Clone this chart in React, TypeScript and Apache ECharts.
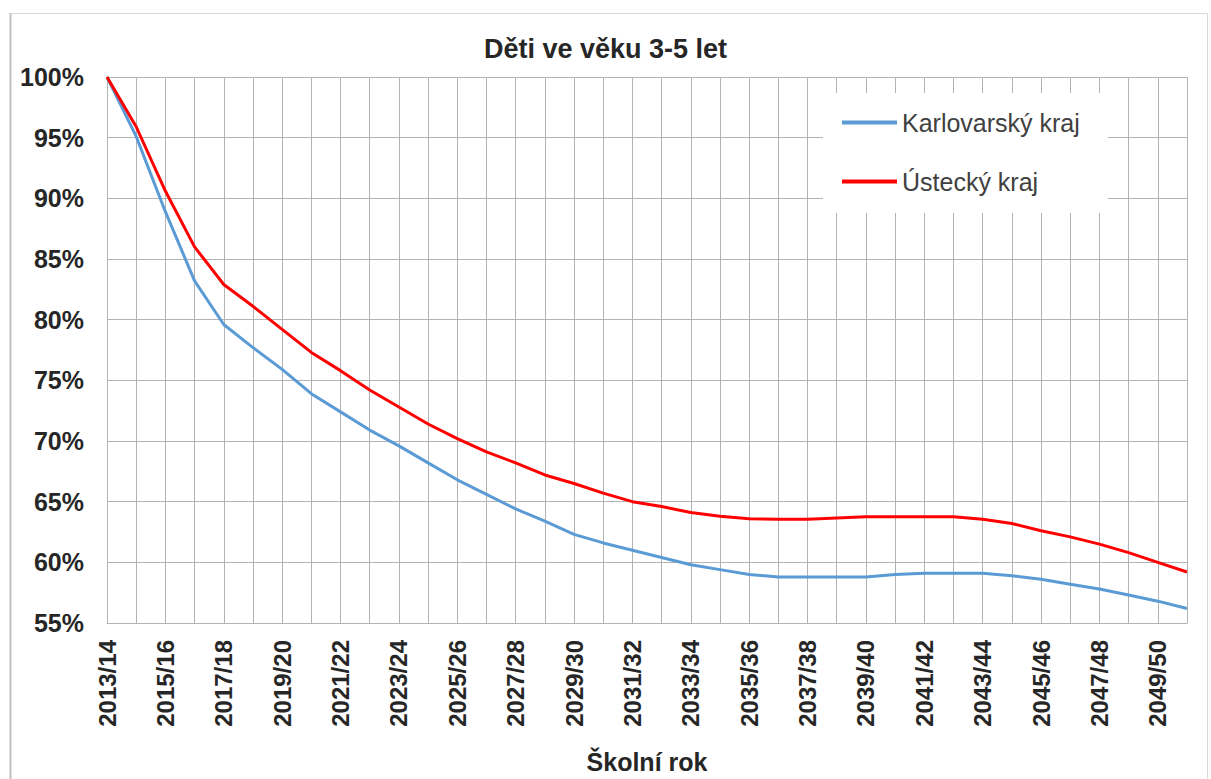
import React, { useEffect, useRef } from "react";
import * as echarts from "echarts";

const categories = [
  "2013/14", "2014/15", "2015/16", "2016/17", "2017/18", "2018/19", "2019/20", "2020/21",
  "2021/22", "2022/23", "2023/24", "2024/25", "2025/26", "2026/27", "2027/28", "2028/29",
  "2029/30", "2030/31", "2031/32", "2032/33", "2033/34", "2034/35", "2035/36", "2036/37",
  "2037/38", "2038/39", "2039/40", "2040/41", "2041/42", "2042/43", "2043/44", "2044/45",
  "2045/46", "2046/47", "2047/48", "2048/49", "2049/50", "2050/51",
];

const karlovarsky = [
  100, 95.1, 88.9, 83.2, 79.6, 77.7, 75.9, 73.9, 72.4, 70.9, 69.6, 68.2, 66.8, 65.6, 64.4, 63.4,
  62.3, 61.6, 61.0, 60.4, 59.8, 59.4, 59.0, 58.8, 58.8, 58.8, 58.8, 59.0, 59.1, 59.1, 59.1, 58.9,
  58.6, 58.2, 57.8, 57.3, 56.8, 56.2,
];

const ustecky = [
  100, 95.9, 90.6, 86.0, 82.9, 81.1, 79.2, 77.3, 75.8, 74.2, 72.8, 71.4, 70.2, 69.1, 68.2, 67.2,
  66.5, 65.7, 65.0, 64.6, 64.1, 63.8, 63.6, 63.55, 63.55, 63.65, 63.75, 63.75, 63.75, 63.75, 63.55, 63.2,
  62.6, 62.1, 61.5, 60.8, 60.0, 59.2,
];

const seriesNames = ["Karlovarský kraj", "Ústecký kraj"];
const titleText = "Děti ve věku 3-5 let";
const xAxisName = "Školní rok";

const FONT = "'Liberation Sans', Arial, sans-serif";

export default function App() {
  const ref = useRef<HTMLDivElement>(null);

  useEffect(() => {
    if (!ref.current) return;
    const chart = echarts.init(ref.current, undefined, { renderer: "svg" });
    chart.setOption({
      animation: false,
      backgroundColor: "#ffffff",
      title: {
        text: titleText,
        left: "center",
        top: 35,
        padding: 0,
        textStyle: { fontFamily: FONT, fontSize: 27, fontWeight: "bold", color: "#262626" },
      },
      legend: {
        orient: "vertical",
        left: 823,
        top: 93,
        padding: [17, 28, 19, 19],
        itemGap: 34,
        itemWidth: 55,
        itemHeight: 4,
        itemTextGap: 4,
        icon: "rect",
        backgroundColor: "#ffffff",
        textStyle: { fontFamily: FONT, fontSize: 25, color: "#404040", lineHeight: 24 },
        data: seriesNames,
      },
      grid: { left: 107, width: 1080, top: 77, height: 550, containLabel: false },
      xAxis: {
        type: "category",
        data: categories,
        boundaryGap: false,
        name: xAxisName,
        nameLocation: "middle",
        nameGap: 126,
        nameTextStyle: { fontFamily: FONT, fontSize: 25, fontWeight: "bold", color: "#262626" },
        axisLine: { lineStyle: { color: "#b3b3b3", width: 1 } },
        axisTick: { show: false },
        axisLabel: {
          interval: 1,
          rotate: 90,
          margin: 17,
          fontFamily: FONT,
          fontSize: 24,
          fontWeight: "bold",
          color: "#262626",
        },
        splitLine: { show: true, interval: 0, lineStyle: { color: "#b3b3b3", width: 1 } },
      },
      yAxis: {
        type: "value",
        min: 55,
        max: 100,
        interval: 5,
        axisLine: { show: true, lineStyle: { color: "#b3b3b3", width: 1 } },
        axisTick: { show: false },
        axisLabel: {
          formatter: "{value}%",
          margin: 23,
          fontFamily: FONT,
          fontSize: 25,
          fontWeight: "bold",
          color: "#262626",
        },
        splitLine: { show: true, lineStyle: { color: "#b3b3b3", width: 1 } },
      },
      graphic: [
        {
          type: "rect",
          shape: { x: 10.5, y: 13.5, width: 1197, height: 800 },
          style: { fill: "none", stroke: "#d9d9d9", lineWidth: 1 },
          silent: true,
        },
        {
          type: "line",
          shape: { x1: 10.5, y1: 13, x2: 10.5, y2: 779 },
          style: { stroke: "#bfbfbf", lineWidth: 2 },
          silent: true,
        },
      ],
      series: [
        {
          name: seriesNames[0],
          type: "line",
          data: karlovarsky,
          symbol: "none",
          lineStyle: { color: "#5b9bd5", width: 3 },
          itemStyle: { color: "#5b9bd5" },
          z: 3,
        },
        {
          name: seriesNames[1],
          type: "line",
          data: ustecky,
          symbol: "none",
          lineStyle: { color: "#ff0000", width: 3 },
          itemStyle: { color: "#ff0000" },
          z: 3,
        },
      ],
    });
    return () => chart.dispose();
  }, []);

  return (
    <div
      ref={ref}
      style={{ position: "fixed", left: 0, top: 0, width: 1211, height: 779, background: "#fff" }}
    />
  );
}
